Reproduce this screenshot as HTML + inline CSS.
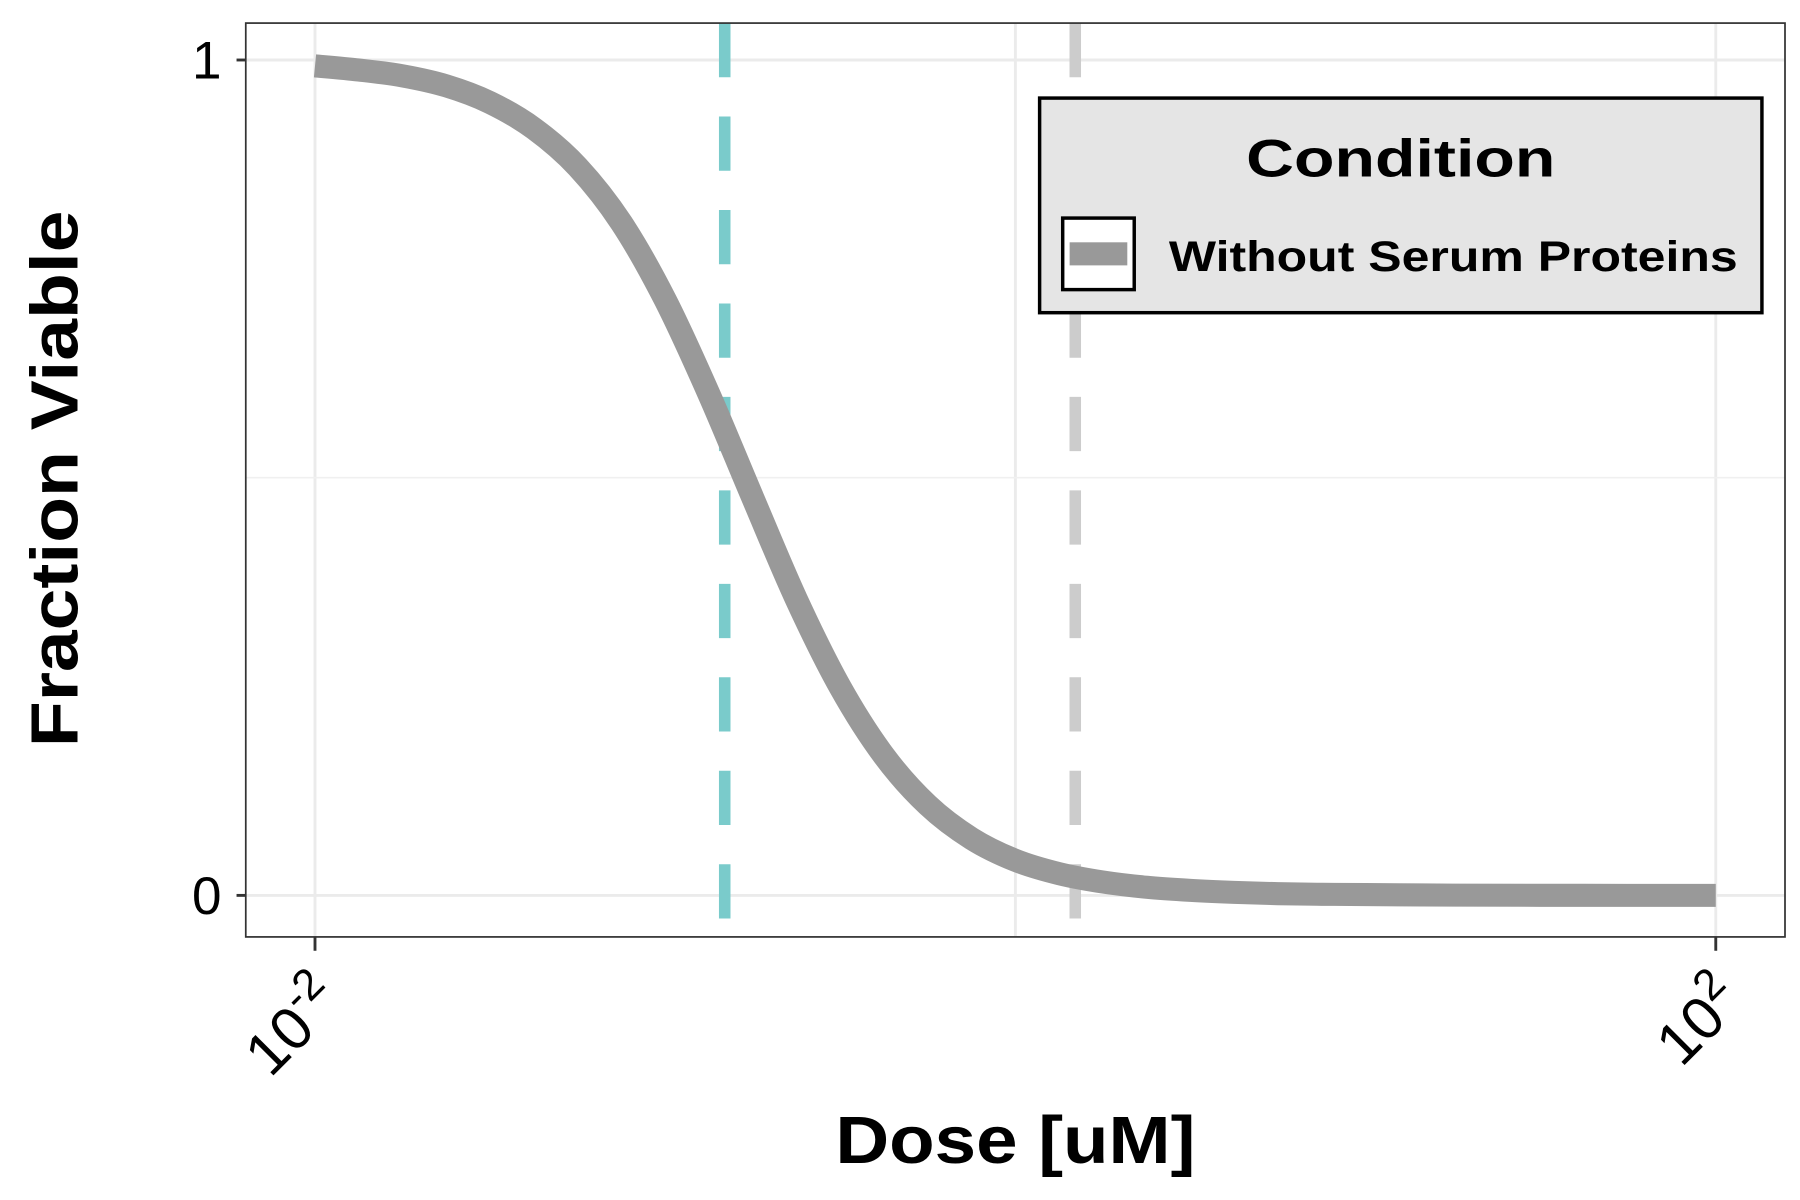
<!DOCTYPE html>
<html><head><meta charset="utf-8"><style>html,body{margin:0;padding:0;background:#fff}svg{display:block}text{font-family:"Liberation Sans",sans-serif}</style></head>
<body>
<svg id="chart" width="1800" height="1200" viewBox="0 0 1560 1040" xmlns="http://www.w3.org/2000/svg">
<rect x="0" y="0" width="1560" height="1040" fill="#fff"/>
<g id="grid"></g>
<g id="vlines"></g>
<g id="series"></g>
<rect x="213" y="20" width="1334" height="792" fill="none" stroke="#333" stroke-width="1.5"/>
<g id="axes"></g>
<text transform="translate(67,415) rotate(-90)" text-anchor="middle" font-size="58" font-weight="bold" textLength="465" lengthAdjust="spacingAndGlyphs">Fraction Viable</text>
<text x="880" y="1008" text-anchor="middle" font-size="58" font-weight="bold" textLength="312" lengthAdjust="spacingAndGlyphs">Dose [uM]</text>
<g>
<rect x="901" y="85" width="626" height="186" fill="#e5e5e5" stroke="#000" stroke-width="3"/>
<text x="1214" y="153" text-anchor="middle" font-size="46" font-weight="bold" textLength="268" lengthAdjust="spacingAndGlyphs">Condition</text>
<g>
<rect x="921" y="189" width="62" height="62" fill="#fff" stroke="#000" stroke-width="3"/>
<rect x="927" y="210" width="50" height="20" fill="#999"/>
<text x="1013" y="235" font-size="37" font-weight="bold" textLength="493" lengthAdjust="spacingAndGlyphs">Without Serum Proteins</text>
</g>
</g>
</svg>
<script>
const logDoses = [-2,-1.875,-1.75,-1.625,-1.5,-1.375,-1.25,-1.125,-1,-0.875,-0.75,-0.625,-0.5,-0.375,-0.25,-0.125,0,0.125,0.25,0.375,0.5,0.625,0.75,0.875,1,1.25,1.5,1.75,2];
const viability = [0.993,0.988,0.981,0.969,0.949,0.918,0.872,0.805,0.713,0.600,0.476,0.354,0.249,0.167,0.108,0.068,0.042,0.026,0.016,0.0097,0.006,0.0036,0.002,0.0013,0.001,0.0003,0.0001,0,0];
const xTickExps = [-2,2];
const yTicks = [0,1];
const refLinesLog = [-0.83,0.171];
const refColors = ['#7ACBCB','#CCCCCC'];
const NS='http://www.w3.org/2000/svg';
const X0=213,X1=1547,Y0=20,Y1=812;
const xs = l => 273 + (l+2)*(1487-273)/4;
const ys = v => 776 - v*(776-52);
function mk(tag, attrs, parent){const e=document.createElementNS(NS,tag);for(const k in attrs)e.setAttribute(k,attrs[k]);parent.appendChild(e);return e;}
const grid=document.getElementById('grid'), vl=document.getElementById('vlines'), ser=document.getElementById('series'), ax=document.getElementById('axes');
[-2,0,2].forEach(l=>{const e=mk('line',{x1:xs(l),x2:xs(l),y1:Y0,y2:Y1,stroke:'#ebebeb','stroke-width':2.5},grid);

});
[0,0.5,1].forEach(v=>{const e=mk('line',{x1:X0,x2:X1,y1:ys(v),y2:ys(v),stroke:v===0.5?'#f0f0f0':'#ebebeb','stroke-width':v===0.5?1.5:2.5},grid);

});
refLinesLog.forEach((l,i)=>{const e=mk('line',{x1:xs(l),x2:xs(l),y1:Y0,y2:Y1,stroke:refColors[i],'stroke-width':10,'stroke-dasharray':'47 34'},vl);

});
const pts=logDoses.map((l,i)=>[xs(l),ys(viability[i])]);
let d='M'+pts[0][0]+','+pts[0][1];
for(let i=0;i<pts.length-1;i++){const p0=pts[Math.max(0,i-1)],p1=pts[i],p2=pts[i+1],p3=pts[Math.min(pts.length-1,i+2)];
d+=` C${p1[0]+(p2[0]-p0[0])/6},${p1[1]+(p2[1]-p0[1])/6} ${p2[0]-(p3[0]-p1[0])/6},${p2[1]-(p3[1]-p1[1])/6} ${p2[0]},${p2[1]}`;}
const path=mk('path',{d:d,fill:'none',stroke:'#999','stroke-width':20},ser);


yTicks.forEach(v=>{const t=mk('line',{x1:205,x2:213,y1:ys(v),y2:ys(v),stroke:'#333','stroke-width':2.5},ax);


const tx=mk('text',{x:192,y:ys(v)+16,'text-anchor':'end','font-size':46},ax);tx.textContent=String(v);

});
xTickExps.forEach(e=>{const x=xs(e);const t=mk('line',{x1:x,x2:x,y1:Y1,y2:Y1+12,stroke:'#333','stroke-width':2.5},ax);


const tx=mk('text',{transform:`translate(${x+26},${Y1+58}) rotate(-45)`,'text-anchor':'end','font-size':52},ax);


const a=mk('tspan',{},tx);a.textContent='10';
const b=mk('tspan',{dy:-22,'font-size':38},tx);b.textContent=String(e);});
</script>
</body></html>
